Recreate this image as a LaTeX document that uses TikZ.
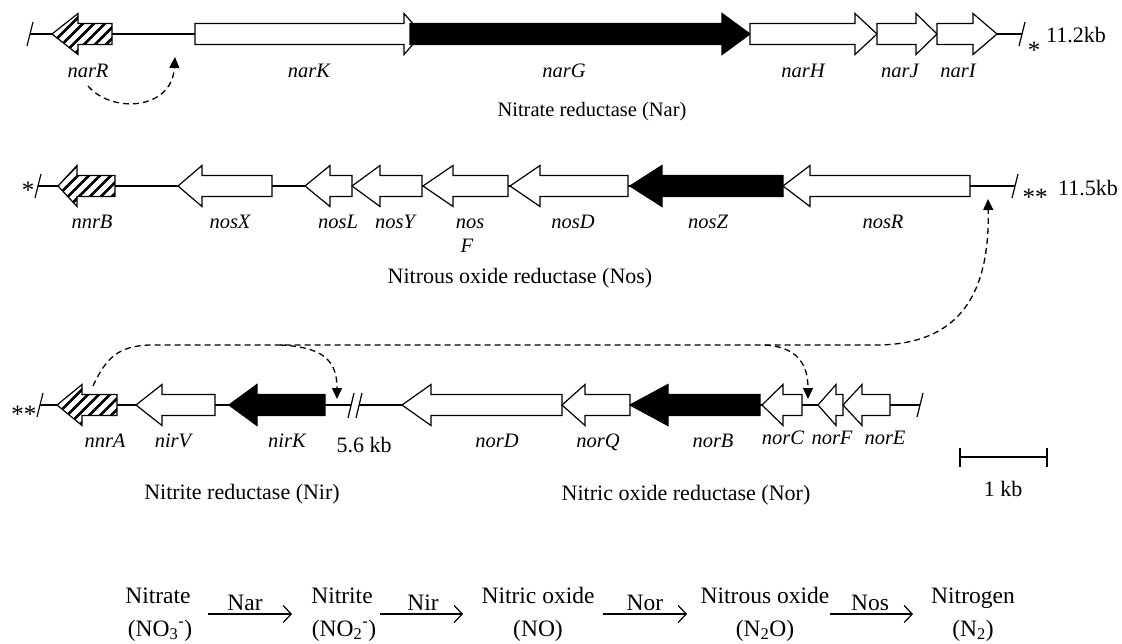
\documentclass[tikz,border=0pt]{standalone}
\usepackage{fontspec}
\setmainfont{Liberation Serif}
\usetikzlibrary{arrows.meta}
\newcommand\genearr[5]{% style, tail x, head-base x, tip x, centre y
  \draw[#1] (#2,#5-10.5) -- (#3,#5-10.5) -- (#3,#5-20.5) -- (#4,#5) -- (#3,#5+20.5) -- (#3,#5+10.5) -- (#2,#5+10.5) -- cycle;}
\begin{document}
\begin{tikzpicture}[x=1pt,y=-1pt,
  gene/.style={draw=black, line width=1.2pt, fill=white, line join=miter},
  blackgene/.style={draw=black, line width=1.2pt, fill=black, line join=miter},
  hatchgene/.style={draw=black, line width=1.2pt, fill=white, line join=miter,
    path picture={\foreach \i in {-55,-44,...,70}{\draw[line width=2.6pt] ([xshift=\i pt]path picture bounding box.south west) -- ++(50pt,50pt);}}},
  backbone/.style={line width=1.2pt},
  glabel/.style={font=\fontsize{20.5}{22}\selectfont\itshape, inner sep=0pt, anchor=base},
  ttl/.style={font=\fontsize{22}{24}\selectfont, inner sep=0pt, anchor=base},
  star/.style={font=\fontsize{25}{27}\selectfont, inner sep=0pt, anchor=base},
  dasharrow/.style={dash pattern=on 6pt off 4pt, line width=1.3pt, -{Triangle[length=11pt,width=10pt]}},
  rxarrow/.style={line width=1.2pt, -{Straight Barb[length=8pt,width=17pt]}},
  eq/.style={font=\fontsize{23.5}{25}\selectfont, inner sep=0pt, anchor=base}
]
\useasboundingbox (0,0) rectangle (1122,643);

% ---------------- Row 1 : nar ----------------
\coordinate (r1l) at (30,34);
\coordinate (r1r) at (1022,34);
\draw[backbone] (r1l) -- (r1r);
\draw[backbone] (27,46) -- (33,22);
\draw[backbone] (1019,46) -- (1025,22);
\genearr{hatchgene}{112}{78}{52}{34}
\genearr{gene}{195}{404}{422}{34}
\genearr{blackgene}{410}{722}{750}{34}
\genearr{gene}{750}{855}{877}{34}
\genearr{gene}{877}{916}{937}{34}
\genearr{gene}{937}{973}{997}{34}
\node[star] (s1) at (1034,58) {*};
\node[ttl, anchor=base west] (kb1) at (1046,42) {11.2kb};
\node[glabel] (lnarR) at (88,77) {narR};
\node[glabel] (lnarK) at (309,77) {narK};
\node[glabel] (lnarG) at (564,77) {narG};
\node[glabel] (lnarH) at (803,77) {narH};
\node[glabel] (lnarJ) at (900,77) {narJ};
\node[glabel] (lnarI) at (958,77) {narI};
\node[ttl, font=\fontsize{20.5}{22}\selectfont] (tNar) at (592,116) {Nitrate reductase (Nar)};
\coordinate (d1s) at (88,86);
\coordinate (d1e) at (175,57);
\draw[dasharrow] (d1s) .. controls (112,114) and (172,110) .. (d1e);

% ---------------- Row 2 : nos ----------------
\coordinate (r2l) at (38,186);
\coordinate (r2r) at (1015,186);
\draw[backbone] (r2l) -- (r2r);
\draw[backbone] (35,198) -- (41,174);
\draw[backbone] (1012,198) -- (1018,174);
\genearr{hatchgene}{115}{77}{58}{186}
\genearr{gene}{272}{202}{178}{186}
\genearr{gene}{352}{330}{305}{186}
\genearr{gene}{422}{380}{352}{186}
\genearr{gene}{508}{453}{423}{186}
\genearr{gene}{628}{540}{510}{186}
\genearr{blackgene}{783}{662}{630}{186}
\genearr{gene}{970}{810}{783}{186}
\node[star] (s2) at (28,198) {*};
\node[star] (s3) at (1035,205) {**};
\node[ttl, anchor=base west] (kb2) at (1058,195) {11.5kb};
\node[glabel] (lnnrB) at (92,228) {nnrB};
\node[glabel] (lnosX) at (230,228) {nosX};
\node[glabel] (lnosL) at (338,228) {nosL};
\node[glabel] (lnosY) at (395,228) {nosY};
\node[glabel] (lnosF1) at (470,228) {nos};
\node[glabel] (lnosF2) at (467,252) {F};
\node[glabel] (lnosD) at (573,228) {nosD};
\node[glabel] (lnosZ) at (708,228) {nosZ};
\node[glabel] (lnosR) at (883,228) {nosR};
\node[ttl] (tNos) at (520,283) {Nitrous oxide reductase (Nos)};

% ---------------- Row 3 : nir / nor ----------------
\coordinate (r3l) at (40,405);
\coordinate (r3b1) at (351,405);
\coordinate (r3b2) at (359,405);
\coordinate (r3r) at (920,405);
\draw[backbone] (r3l) -- (r3b1);
\draw[backbone] (r3b2) -- (r3r);
\draw[backbone] (37,417) -- (43,393);
\draw[backbone] (348,418) -- (354,393);
\draw[backbone] (356,418) -- (362,393);
\draw[backbone] (917,417) -- (923,393);
\genearr{hatchgene}{117}{82}{57}{405}
\genearr{gene}{215}{162}{136}{405}
\genearr{blackgene}{325}{257}{229}{405}
\genearr{gene}{562}{431}{402}{405}
\genearr{gene}{630}{585}{562}{405}
\genearr{blackgene}{760}{668}{630}{405}
\genearr{gene}{802}{783}{762}{405}
\genearr{gene}{843}{836}{818}{405}
\genearr{gene}{890}{862}{843}{405}
\node[star] (s4) at (24,422) {**};
\node[glabel] (lnnrA) at (105,447) {nnrA};
\node[glabel] (lnirV) at (173,447) {nirV};
\node[glabel] (lnirK) at (287,447) {nirK};
\node[ttl] (l56) at (364,452) {5.6 kb};
\node[glabel] (lnorD) at (497,447) {norD};
\node[glabel] (lnorQ) at (598,447) {norQ};
\node[glabel] (lnorB) at (713,447) {norB};
\node[glabel] (lnorC) at (783,444) {norC};
\node[glabel] (lnorF) at (832,444) {norF};
\node[glabel] (lnorE) at (885,444) {norE};
\node[ttl] (tNir) at (242,499) {Nitrite reductase (Nir)};
\node[ttl] (tNor) at (686,500) {Nitric oxide reductase (Nor)};

% scale bar
\coordinate (sb1) at (960,457);
\coordinate (sb2) at (1047,457);
\draw[backbone] (sb1) -- (sb2);
\draw[backbone] (960,448) -- (960,467);
\draw[backbone] (1047,448) -- (1047,467);
\node[ttl] (l1kb) at (1003,496) {1 kb};

% regulatory dashed arrows
\coordinate (dA) at (93,386);
\coordinate (dB) at (150,345);
\coordinate (dC) at (880,345);
\coordinate (dNos) at (988,199);
\coordinate (dK0) at (280,345);
\coordinate (dK) at (337,399);
\coordinate (dC0) at (765,345);
\coordinate (dNorC) at (808,399);
\draw[dasharrow] (dA) .. controls (106,358) and (118,346) .. (dB) -- (dC) .. controls (955,343) and (990,300) .. (dNos);
\draw[dasharrow] (dK0) .. controls (325,347) and (337,362) .. (dK);
\draw[dasharrow] (dC0) .. controls (798,347) and (808,365) .. (dNorC);

% ---------------- Reaction scheme ----------------
\node[eq] (e1) at (158,603) {Nitrate};
\node[eq] (e1b) at (160,636) {(NO\textsubscript{3}\textsuperscript{-})};
\node[eq] (e2) at (342,603) {Nitrite};
\node[eq] (e2b) at (344,636) {(NO\textsubscript{2}\textsuperscript{-})};
\node[eq] (e3) at (538,603) {Nitric oxide};
\node[eq] (e3b) at (538,636) {(NO)};
\node[eq] (e4) at (765,603) {Nitrous oxide};
\node[eq] (e4b) at (765,636) {(N\textsubscript{2}O)};
\node[eq] (e5) at (973,603) {Nitrogen};
\node[eq] (e5b) at (973,636) {(N\textsubscript{2})};
\coordinate (a1s) at (208,614); \coordinate (a1e) at (292,614);
\coordinate (a2s) at (380,614); \coordinate (a2e) at (463,614);
\coordinate (a3s) at (603,614); \coordinate (a3e) at (687,614);
\coordinate (a4s) at (830,614); \coordinate (a4e) at (913,614);
\draw[rxarrow] (a1s) -- (a1e);
\draw[rxarrow] (a2s) -- (a2e);
\draw[rxarrow] (a3s) -- (a3e);
\draw[rxarrow] (a4s) -- (a4e);
\node[eq] (kNar) at (245,610) {Nar};
\node[eq] (kNir) at (423,610) {Nir};
\node[eq] (kNor) at (645,610) {Nor};
\node[eq] (kNos) at (870,610) {Nos};
\end{tikzpicture}
\end{document}
